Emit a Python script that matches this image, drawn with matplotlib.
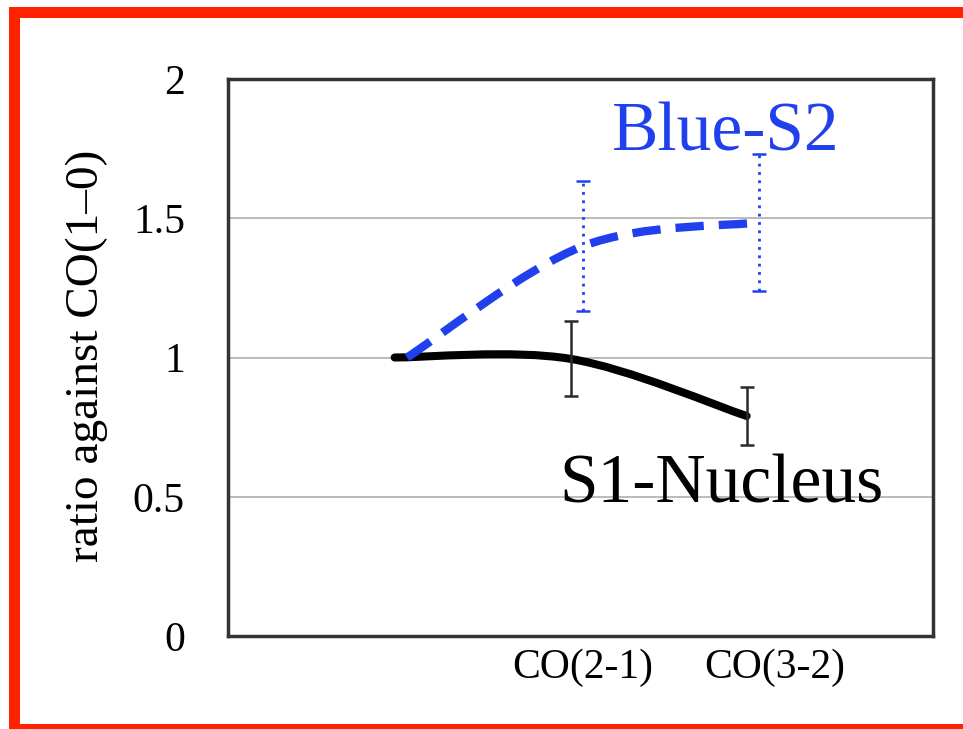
import matplotlib
matplotlib.use("Agg")
import matplotlib.pyplot as plt
from matplotlib.path import Path
from matplotlib.patches import PathPatch, Rectangle
import matplotlib.transforms as mtransforms

plt.rcParams['font.family'] = ['Liberation Serif', 'DejaVu Serif']

# Line ratios relative to CO(1-0)
transitions = ["CO(1-0)", "CO(2-1)", "CO(3-2)"]
tick_labels = ["CO(2-1)", "CO(3-2)"]
s1_nucleus = [1.0, 0.995, 0.79]
s1_err = [0.0, 0.135, 0.105]
blue_s2 = [1.0, 1.40, 1.485]
blue_err = [0.0, 0.233, 0.245]
y_ticks = [0, 0.5, 1, 1.5, 2]
y_tick_labels = ["0", "0.5", "1", "1.5", "2"]

BLUE = "#2040EE"
W, H = 963, 729
fig = plt.figure(figsize=(W / 100, H / 100), dpi=100)
ax = fig.add_axes([228 / W, 1 - 636 / H, 705 / W, 557 / H])

x_blue = [1, 2, 3]
x_black = [x - 0.07 for x in x_blue]


def smooth_path(xs, ys):
    """Cubic Bezier path through the points (Catmull-Rom style tangents)."""
    pts = list(zip(xs, ys))
    n = len(pts)
    verts = [pts[0]]
    codes = [Path.MOVETO]
    for i in range(n - 1):
        p0 = pts[i - 1] if i > 0 else pts[i]
        p1 = pts[i]
        p2 = pts[i + 1]
        p3 = pts[i + 2] if i + 2 < n else pts[i + 1]
        c1 = (p1[0] + (p2[0] - p0[0]) / 6, p1[1] + (p2[1] - p0[1]) / 6)
        c2 = (p2[0] - (p3[0] - p1[0]) / 6, p2[1] - (p3[1] - p1[1]) / 6)
        verts += [c1, c2, p2]
        codes += [Path.CURVE4] * 3
    return Path(verts, codes)


# grid
for y in [0.5, 1.0, 1.5]:
    ax.axhline(y, color="#b5b5b5", lw=1.3, zorder=1)

# S1-Nucleus
ax.add_patch(PathPatch(smooth_path(x_black, s1_nucleus), facecolor="none",
                       edgecolor="black", lw=5.8, capstyle="round", zorder=3))
ax.errorbar(x_black[1:], s1_nucleus[1:], yerr=s1_err[1:], fmt="none",
            ecolor="#2a2a2a", elinewidth=1.8, capsize=5.0, capthick=1.8, zorder=4)

# Blue-S2
ax.add_patch(PathPatch(smooth_path(x_blue, blue_s2), facecolor="none",
                       edgecolor=BLUE, lw=6.0, linestyle=(0, (3.4, 1.8)),
                       capstyle="butt", zorder=3))
eb = ax.errorbar(x_blue[1:], blue_s2[1:], yerr=blue_err[1:], fmt="none",
                 ecolor=BLUE, elinewidth=2.0, capsize=5.0, capthick=1.8, zorder=4)
for lc in eb[2]:
    lc.set_linestyle((0, (1.0, 2.0)))

ax.text(2.81, 1.745, "Blue-S2", color=BLUE, fontsize=50, ha="center", va="baseline")
ax.text(2.79, 0.478, "S1-Nucleus", color="black", fontsize=50, ha="center", va="baseline")

ax.set_xlim(-0.017, 3.989)
ax.set_ylim(0, 2)
ax.set_yticks(y_ticks)
ax.set_yticklabels(y_tick_labels, fontsize=30)
ax.set_xticks([2, 3])
ax.set_xticklabels(tick_labels, fontsize=30)
ax.tick_params(axis="both", length=0)
ax.tick_params(axis="y", pad=31)
ax.tick_params(axis="x", pad=9)
shift = mtransforms.ScaledTranslation(16 / 100, 0, fig.dpi_scale_trans)
xl = ax.get_xticklabels()
xl[1].set_transform(xl[1].get_transform() + shift)

for sp in ax.spines.values():
    sp.set_color("#333333")
    sp.set_linewidth(2.5)

fig.text(87 / W, 1 - 356 / H, "ratio against CO(1\u20130)", rotation=90,
         fontsize=34, ha="center", va="center")

# red outline around the panel
fig.add_artist(Rectangle((13.8 / W, 1 - 728.5 / H), 1.05, (728.5 - 11.5) / H,
                         transform=fig.transFigure, fill=False,
                         edgecolor="#FF2200", lw=7.9, joinstyle="miter",
                         clip_on=False))

fig.savefig("out.png", dpi=100)
